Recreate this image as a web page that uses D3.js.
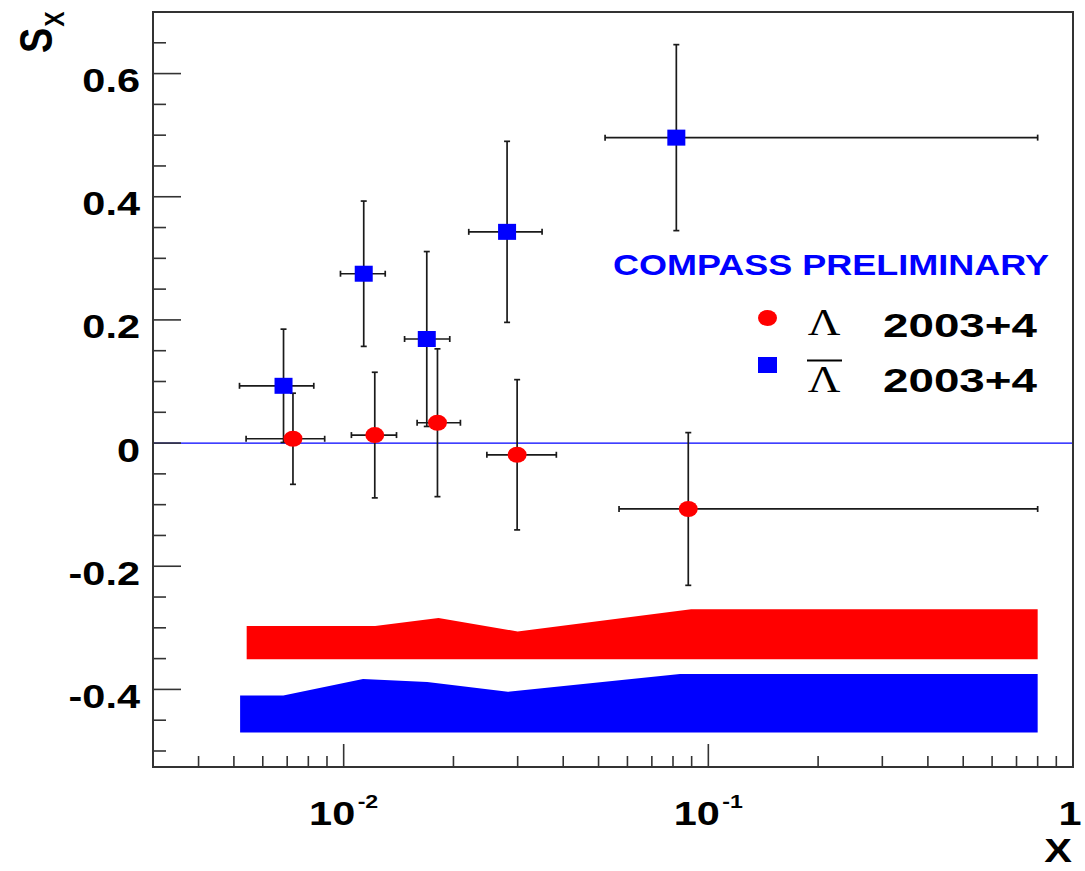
<!DOCTYPE html>
<html>
<head>
<meta charset="utf-8">
<script src="https://cdn.jsdelivr.net/npm/d3@7"></script>
<style>
  body { margin: 0; background: #fff; }
  .lbl { font-family: "Liberation Sans", Arial, sans-serif; font-weight: bold; }
  .sym { font-family: "Liberation Serif", "DejaVu Serif", serif; font-weight: normal; }
</style>
</head>
<body>
<div id="chart"></div>
<script>
// Lambda 2003+4 points
const lamX = [0.00726, 0.01217, 0.01808, 0.0299, 0.0881];
const lamY = [0.007, 0.013, 0.033, -0.019, -0.107];
const lamYErr = [0.074, 0.102, 0.12, 0.122, 0.124];
const lamXLo = [0.0054, 0.0105, 0.0159, 0.0247, 0.0569];
const lamXHi = [0.00887, 0.01396, 0.0209, 0.0383, 0.80];

// anti-Lambda 2003+4 points
const barX = [0.00684, 0.01135, 0.0169, 0.02806, 0.0817];
const barY = [0.093, 0.275, 0.169, 0.343, 0.496];
const barYErr = [0.092, 0.118, 0.142, 0.147, 0.151];
const barXLo = [0.00518, 0.0098, 0.01469, 0.02203, 0.0521];
const barXHi = [0.00828, 0.0130, 0.01954, 0.035, 0.80];

// systematic bands
const lamSysX = [0.00542, 0.0122, 0.0182, 0.0300, 0.0897, 0.80];
const lamSysTop = [-0.297, -0.297, -0.284, -0.306, -0.270, -0.270];
const lamSysBottom = -0.351;
const barSysX = [0.0052, 0.00683, 0.0113, 0.01695, 0.0282, 0.0836, 0.80];
const barSysTop = [-0.410, -0.410, -0.383, -0.388, -0.404, -0.375, -0.375];
const barSysBottom = -0.470;

// ticks
const yMajor = [-0.4, -0.2, 0, 0.2, 0.4, 0.6];
const yLabels = ["-0.4", "-0.2", "0", "0.2", "0.4", "0.6"];
const xMajor = [0.01, 0.1, 1];
const xBase = ["10", "10", "1"];
const xExp = ["-2", "-1", ""];

const W = 1085, H = 871;
const mLeft = 153, mRight = 1073, mTop = 12, mBottom = 767;
const SX = 1.22; // horizontal stretch of the text

const svg = d3.select("#chart").append("svg")
    .attr("width", W)
    .attr("height", H);

const x = d3.scaleLog().domain([0.003, 1]).range([mLeft, mRight]);
const y = d3.scaleLinear().domain([-0.526, 0.7]).range([mBottom, mTop]);

// minor ticks
let xMinor = [];
[0.001, 0.01, 0.1].forEach(d => {
    for (let k = 2; k <= 9; k++) {
        let v = d * k;
        if (v >= 0.003 && v < 1) xMinor.push(v);
    }
});
const yMinor = d3.range(-0.5, 0.701, 0.05).map(v => +v.toFixed(2)).filter(v => yMajor.indexOf(v) < 0);

// bands
function drawBand(xs, tops, bot, color) {
    const rows = xs.map((d, i) => ({x: d, t: tops[i]}));
    svg.append("path")
        .datum(rows)
        .attr("fill", color)
        .attr("d", d3.area()
            .x(d => x(d.x))
            .y0(y(bot))
            .y1(d => y(d.t)));
}
drawBand(lamSysX, lamSysTop, lamSysBottom, "#ff0000");
drawBand(barSysX, barSysTop, barSysBottom, "#0000ff");

// zero line
svg.append("line")
    .attr("x1", mLeft).attr("x2", mRight)
    .attr("y1", y(0)).attr("y2", y(0))
    .attr("stroke", "#0000ff")
    .attr("stroke-width", 1.2);

// error bars
function drawErrors(xs, ys, yerr, xlo, xhi) {
    const g = svg.append("g").attr("stroke", "#1a1a1a").attr("stroke-width", 1.7);
    xs.forEach((d, i) => {
        const cx = x(d), cy = y(ys[i]);
        const y1 = y(ys[i] + yerr[i]), y2 = y(ys[i] - yerr[i]);
        const x1 = x(xlo[i]), x2 = x(xhi[i]);
        g.append("line").attr("x1", cx).attr("x2", cx).attr("y1", y1).attr("y2", y2);
        g.append("line").attr("x1", x1).attr("x2", x2).attr("y1", cy).attr("y2", cy);
        // caps
        g.append("line").attr("x1", cx - 3).attr("x2", cx + 3).attr("y1", y1).attr("y2", y1);
        g.append("line").attr("x1", cx - 3).attr("x2", cx + 3).attr("y1", y2).attr("y2", y2);
        g.append("line").attr("x1", x1).attr("x2", x1).attr("y1", cy - 3).attr("y2", cy + 3);
        g.append("line").attr("x1", x2).attr("x2", x2).attr("y1", cy - 3).attr("y2", cy + 3);
    });
}
drawErrors(barX, barY, barYErr, barXLo, barXHi);
drawErrors(lamX, lamY, lamYErr, lamXLo, lamXHi);

// markers
svg.append("g").selectAll("rect")
    .data(barX)
    .enter().append("rect")
    .attr("x", d => x(d) - 9)
    .attr("y", (d, i) => y(barY[i]) - 8)
    .attr("width", 18).attr("height", 16)
    .attr("fill", "#0000ff");

svg.append("g").selectAll("ellipse")
    .data(lamX)
    .enter().append("ellipse")
    .attr("cx", d => x(d))
    .attr("cy", (d, i) => y(lamY[i]))
    .attr("rx", 9.5).attr("ry", 8)
    .attr("fill", "#ff0000");

// frame
svg.append("rect")
    .attr("x", mLeft).attr("y", mTop)
    .attr("width", mRight - mLeft).attr("height", mBottom - mTop)
    .attr("fill", "none")
    .attr("stroke", "#333")
    .attr("stroke-width", 2);

// y ticks
const yAxisG = svg.append("g").attr("stroke", "#333").attr("stroke-width", 1.6);
yAxisG.selectAll(".ymaj").data(yMajor).enter().append("line")
    .attr("x1", mLeft).attr("x2", mLeft + 28)
    .attr("y1", d => y(d)).attr("y2", d => y(d));
yAxisG.selectAll(".ymin").data(yMinor).enter().append("line")
    .attr("x1", mLeft).attr("x2", mLeft + 13)
    .attr("y1", d => y(d)).attr("y2", d => y(d));

// x ticks
const xAxisG = svg.append("g").attr("stroke", "#333").attr("stroke-width", 1.6);
xAxisG.selectAll(".xmaj").data(xMajor).enter().append("line")
    .attr("x1", d => x(d)).attr("x2", d => x(d))
    .attr("y1", mBottom).attr("y2", mBottom - 23);
xAxisG.selectAll(".xmin").data(xMinor).enter().append("line")
    .attr("x1", d => x(d)).attr("x2", d => x(d))
    .attr("y1", mBottom).attr("y2", mBottom - 11);

// stretched text helper
function label(px, py, str, size, anchor, color, len) {
    const g = svg.append("g").attr("transform", `translate(${px},${py})`);
    const t = g.append("text")
        .attr("class", "lbl")
        .attr("transform", `scale(${SX},1)`)
        .attr("text-anchor", anchor || "start")
        .attr("font-size", size)
        .attr("fill", color || "#000")
        .text(str);
    if (len) t.attr("textLength", len / SX).attr("lengthAdjust", "spacingAndGlyphs");
    return t;
}

// y labels
yMajor.forEach((d, i) => label(140, y(d) + 18.5, yLabels[i], 34, "end"));

// x labels
xMajor.forEach((d, i) => {
    const g = svg.append("g").attr("transform", `translate(${x(d) + (xExp[i] ? 0 : -3)},825)`);
    const t = g.append("text")
        .attr("class", "lbl")
        .attr("transform", `scale(${SX},1)`)
        .attr("text-anchor", "middle")
        .attr("font-size", 34);
    t.append("tspan").text(xBase[i]);
    if (xExp[i]) {
        t.append("tspan").attr("dx", 2).attr("dy", -17).attr("font-size", 19).text(xExp[i]);
    }
});

// axis titles
label(1058, 862, "X", 34, "middle");
const sg = svg.append("g").attr("transform", `translate(52,53) scale(${SX},1) rotate(-90)`);
const st = sg.append("text").attr("class", "lbl").attr("font-size", 38);
st.append("tspan").text("S");
st.append("tspan").attr("dx", 1).attr("dy", 10).attr("font-size", 23).text("X");

// legend
label(613, 275, "COMPASS PRELIMINARY", 29, "start", "#0000ff", 436);
svg.append("ellipse")
    .attr("cx", 767.5).attr("cy", 318)
    .attr("rx", 9.5).attr("ry", 8)
    .attr("fill", "#ff0000");
svg.append("rect")
    .attr("x", 758).attr("y", 357)
    .attr("width", 19).attr("height", 16)
    .attr("fill", "#0000ff");

[[824, 335], [824, 392]].forEach(p => {
    svg.append("g").attr("transform", `translate(${p[0]},${p[1]})`)
        .append("text").attr("class", "sym")
        .attr("text-anchor", "middle")
        .attr("transform", `scale(${SX},1)`)
        .attr("font-size", 37).text("\u039B");
});
svg.append("line")
    .attr("x1", 807).attr("x2", 842)
    .attr("y1", 360.5).attr("y2", 360.5)
    .attr("stroke", "#000").attr("stroke-width", 2.2);

label(883, 337, "2003+4", 34, "start", "#000", 154);
label(883, 392, "2003+4", 34, "start", "#000", 154);
</script>
</body>
</html>
